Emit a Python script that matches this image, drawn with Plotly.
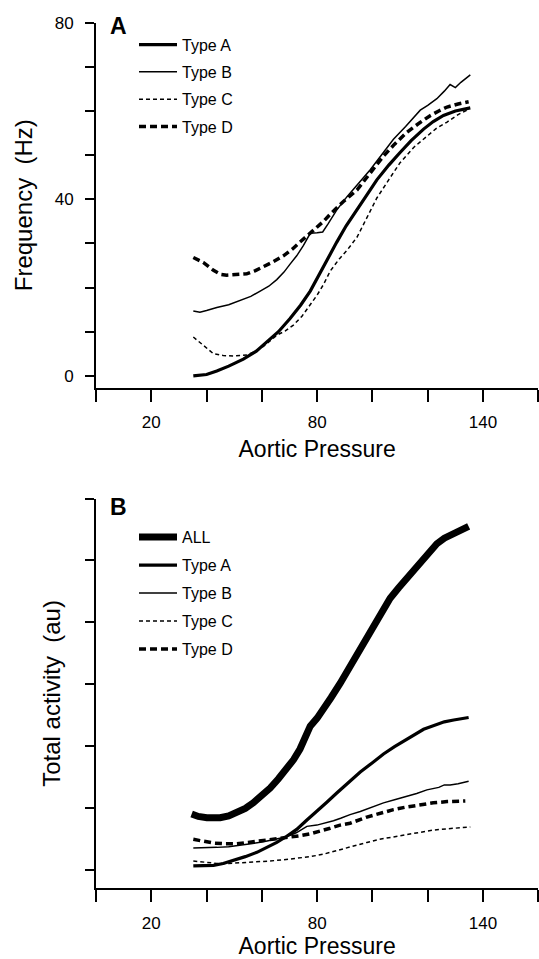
import plotly.graph_objects as go

# ---------------- Panel A : Frequency (Hz) ----------------
a_typeA_x = [35.2, 40, 43.7, 48, 53.3, 58, 61.8, 66, 70.2, 74, 77.5, 81, 84.7, 87.1, 90.5, 94.4, 98, 101.6, 106, 110, 114, 118.5, 122, 125.7, 130, 135.4]
a_typeA_y = [0, 0.3, 1.1, 2.2, 3.8, 5.6, 7.7, 10, 13, 16, 19.2, 23.3, 27.6, 30.3, 34, 37.5, 41, 44.4, 47.8, 50.6, 53.3, 55.9, 57.6, 59, 60, 60.7]

a_typeB_x = [35.2, 37.6, 40, 43.7, 48, 52.1, 56, 59.4, 62.5, 65.4, 68, 70.2, 72.6, 75, 77.5, 80, 82, 84, 87, 90.8, 95, 99.2, 103, 107.6, 112, 117.3, 120, 123.3, 126, 128.1, 130, 132, 135.4]
a_typeB_y = [14.7, 14.4, 14.8, 15.5, 16.1, 17, 18, 19.2, 20.3, 21.8, 23.5, 25.3, 27.2, 29.5, 32.3, 32.4, 32.6, 34.5, 37.5, 40.6, 43.6, 46.7, 49.8, 53.6, 56.5, 60.2, 61.3, 62.8, 64.5, 66, 65.3, 66.5, 68.2]

a_typeC_x = [35.2, 38.8, 42.5, 46, 49.7, 54.5, 57.5, 60.6, 63, 65.4, 68.5, 71.4, 74.5, 77.5, 80, 82.3, 84.7, 88, 91, 94.4, 98, 101.6, 106, 110, 115, 119.7, 123, 127, 131, 134.5]
a_typeC_y = [8.8, 6.9, 5, 4.6, 4.5, 4.7, 5.5, 6.7, 8, 9.2, 10.2, 11.5, 13.5, 16.1, 18.3, 20.7, 23.7, 26.5, 28.6, 31.4, 36, 40.3, 44.5, 48.3, 51.8, 54.4, 56, 57.5, 59.2, 60.3]

a_typeD_x = [35.2, 38.8, 42.5, 45, 47.3, 51, 54.5, 57.5, 60.6, 64, 67.8, 71, 73.8, 77, 79.9, 82.3, 84.7, 89.5, 94.4, 99, 104, 108, 112.5, 117, 121, 124, 127, 131, 134.8]
a_typeD_y = [26.8, 25.7, 23.9, 23, 22.8, 22.9, 23.1, 23.8, 24.7, 25.8, 27.2, 28.7, 30.3, 32, 33.7, 35, 36.6, 39.5, 42.1, 45.8, 49.8, 52.5, 55.2, 57.3, 59, 60, 60.9, 61.6, 62.1]

# ---------------- Panel B : Total activity (au) ----------------
b_all_x = [34.6, 37, 40.1, 44.9, 48, 50.9, 54, 56.9, 60, 63, 66, 69, 71.5, 73.8, 76.3, 77.5, 80, 82.3, 85, 88.3, 91.5, 94.4, 97.5, 100.4, 103.5, 106.4, 109.5, 112.5, 115.5, 118.5, 121, 123.3, 126, 129.4, 132, 134.8]
b_all_y = [0.90, 0.86, 0.84, 0.84, 0.87, 0.92, 0.99, 1.08, 1.19, 1.32, 1.47, 1.63, 1.78, 1.95, 2.16, 2.32, 2.45, 2.59, 2.78, 3.01, 3.25, 3.49, 3.73, 3.97, 4.18, 4.39, 4.56, 4.71, 4.88, 5.03, 5.16, 5.27, 5.36, 5.43, 5.49, 5.55]

b_typeA_x = [35.2, 38.5, 42.5, 46, 49.7, 54, 58.2, 62, 65.4, 69, 72.6, 76, 79.9, 83.5, 87.1, 91.5, 95.6, 100, 104, 108, 112.5, 115.5, 118.5, 121, 123.3, 126, 129.4, 132, 134.8]
b_typeA_y = [0.06, 0.06, 0.07, 0.10, 0.15, 0.21, 0.28, 0.36, 0.44, 0.54, 0.65, 0.79, 0.94, 1.09, 1.24, 1.42, 1.58, 1.73, 1.87, 1.99, 2.11, 2.19, 2.27, 2.31, 2.35, 2.39, 2.42, 2.44, 2.46]

b_typeB_x = [35.2, 39, 43.7, 48, 52.1, 56, 60.6, 64, 67.8, 70.5, 72.6, 74.5, 76.3, 79.9, 83, 85.9, 88.5, 91.9, 95.6, 100, 104, 108, 112.5, 116, 119.7, 124, 126, 128.1, 131, 134.8]
b_typeB_y = [0.35, 0.35, 0.36, 0.37, 0.39, 0.42, 0.45, 0.48, 0.52, 0.56, 0.60, 0.65, 0.70, 0.72, 0.75, 0.79, 0.83, 0.89, 0.94, 1.01, 1.08, 1.13, 1.18, 1.23, 1.29, 1.33, 1.37, 1.37, 1.39, 1.43]

b_typeC_x = [35.2, 39, 43.7, 48, 53.3, 58, 63, 68, 72.6, 77.5, 82.3, 87, 91.9, 98, 102.5, 107.6, 112, 117.3, 122, 127, 131, 135.4]
b_typeC_y = [0.14, 0.12, 0.10, 0.10, 0.11, 0.12, 0.14, 0.16, 0.18, 0.21, 0.25, 0.31, 0.36, 0.44, 0.49, 0.53, 0.57, 0.61, 0.64, 0.66, 0.68, 0.69]

b_typeD_x = [35.2, 38.5, 42.5, 46, 50.9, 55, 60.6, 65, 70.2, 74, 77.5, 81, 84.7, 88.3, 91.9, 98, 103, 107.6, 112, 117.3, 122, 127, 130, 133.6]
b_typeD_y = [0.49, 0.46, 0.43, 0.42, 0.42, 0.44, 0.47, 0.49, 0.52, 0.55, 0.58, 0.62, 0.67, 0.72, 0.75, 0.85, 0.92, 0.97, 1.01, 1.05, 1.08, 1.10, 1.11, 1.11]

x_tickvals = [0, 20, 40, 60, 80, 100, 120, 140, 160]
x_ticktext = ["", "20", "", "", "80", "", "", "140", ""]
a_tickvals = [0, 10, 20, 30, 40, 50, 60, 70, 80]
a_ticktext = ["0", "", "", "", "40", "", "", "", "80"]
b_tickvals = [0, 1, 2, 3, 4, 5, 6]

FONT = "Liberation Sans, Arial, sans-serif"
NB = "\u00a0"
styles = {
    "ALL": dict(width=7, dash="solid"),
    "Type A": dict(width=3.2, dash="solid"),
    "Type B": dict(width=1.5, dash="solid"),
    "Type C": dict(width=1.5, dash="4px,3px"),
    "Type D": dict(width=3.5, dash="7px,4px"),
}

fig = go.Figure()

def add(x, y, name, xa, ya, legend):
    st = styles[name]
    fig.add_trace(go.Scatter(
        x=x, y=y, mode="lines", name=name, xaxis=xa, yaxis=ya,
        legend=legend, legendgroup=legend + name,
        line=dict(color="black", width=st["width"], dash=st["dash"]),
    ))

add(a_typeA_x, a_typeA_y, "Type A", "x", "y", "legend")
add(a_typeB_x, a_typeB_y, "Type B", "x", "y", "legend")
add(a_typeC_x, a_typeC_y, "Type C", "x", "y", "legend")
add(a_typeD_x, a_typeD_y, "Type D", "x", "y", "legend")

add(b_all_x, b_all_y, "ALL", "x2", "y2", "legend2")
add(b_typeA_x, b_typeA_y, "Type A", "x2", "y2", "legend2")
add(b_typeB_x, b_typeB_y, "Type B", "x2", "y2", "legend2")
add(b_typeC_x, b_typeC_y, "Type C", "x2", "y2", "legend2")
add(b_typeD_x, b_typeD_y, "Type D", "x2", "y2", "legend2")

xdom = [96 / 539, 538.3 / 539]
common_x = dict(
    range=[0, 160], tickvals=x_tickvals, ticktext=x_ticktext,
    showline=True, linecolor="black", linewidth=2, ticks="outside",
    ticklen=12, tickwidth=2, tickcolor="black", showgrid=False, zeroline=False,
    tickfont=dict(family=FONT, size=17, color="black"),
    ticklabelstandoff=6,
    title=dict(text="Aortic Pressure", font=dict(family=FONT, size=23, color="black"), standoff=10),
    domain=xdom,
)
common_y = dict(
    showline=True, linecolor="black", linewidth=2, ticks="outside",
    ticklen=9, tickwidth=2, tickcolor="black", showgrid=False, zeroline=False,
    tickfont=dict(family=FONT, size=17, color="black"),
    ticklabelstandoff=8,
)

fig.update_layout(
    width=539, height=959,
    margin=dict(l=0, r=0, t=0, b=0),
    paper_bgcolor="white", plot_bgcolor="white",
    font=dict(family=FONT, color="black"),
    xaxis=dict(anchor="y", **common_x),
    xaxis2=dict(anchor="y2", **common_x),
    yaxis=dict(anchor="x", domain=[1 - 386 / 959, 1 - 14 / 959], range=[-2.7, 80],
               tickvals=a_tickvals, ticktext=a_ticktext,
               title=dict(text="Frequency" + NB + NB + "(Hz)", font=dict(family=FONT, size=24, color="black"), standoff=15),
               **common_y),
    yaxis2=dict(anchor="x2", domain=[1 - 896 / 959, 1 - 499 / 959], range=[-0.3, 6],
                tickvals=b_tickvals, showticklabels=False,
                title=dict(text="Total activity" + NB + NB + "(au)", font=dict(family=FONT, size=24, color="black"), standoff=18),
                **common_y),
    legend=dict(x=134 / 539, y=1 - 19 / 959, xanchor="left", yanchor="top",
                bgcolor="rgba(0,0,0,0)", font=dict(family=FONT, size=16, color="black"),
                tracegroupgap=3.5, traceorder="grouped", itemwidth=38),
    legend2=dict(x=134 / 539, y=1 - 521 / 959, xanchor="left", yanchor="top",
                 bgcolor="rgba(0,0,0,0)", font=dict(family=FONT, size=16, color="black"),
                 tracegroupgap=4.2, traceorder="grouped", itemwidth=38),
    showlegend=True,
    annotations=[
        dict(text="<b>A</b>", x=108 / 539, y=1 - 2 / 959, xref="paper", yref="paper",
             xanchor="left", yanchor="top", showarrow=False,
             font=dict(family=FONT, size=23, color="black")),
        dict(text="<b>B</b>", x=108 / 539, y=1 - 492 / 959, xref="paper", yref="paper",
             xanchor="left", yanchor="top", showarrow=False,
             font=dict(family=FONT, size=23, color="black")),
    ],
)

fig.write_html("out.html")
